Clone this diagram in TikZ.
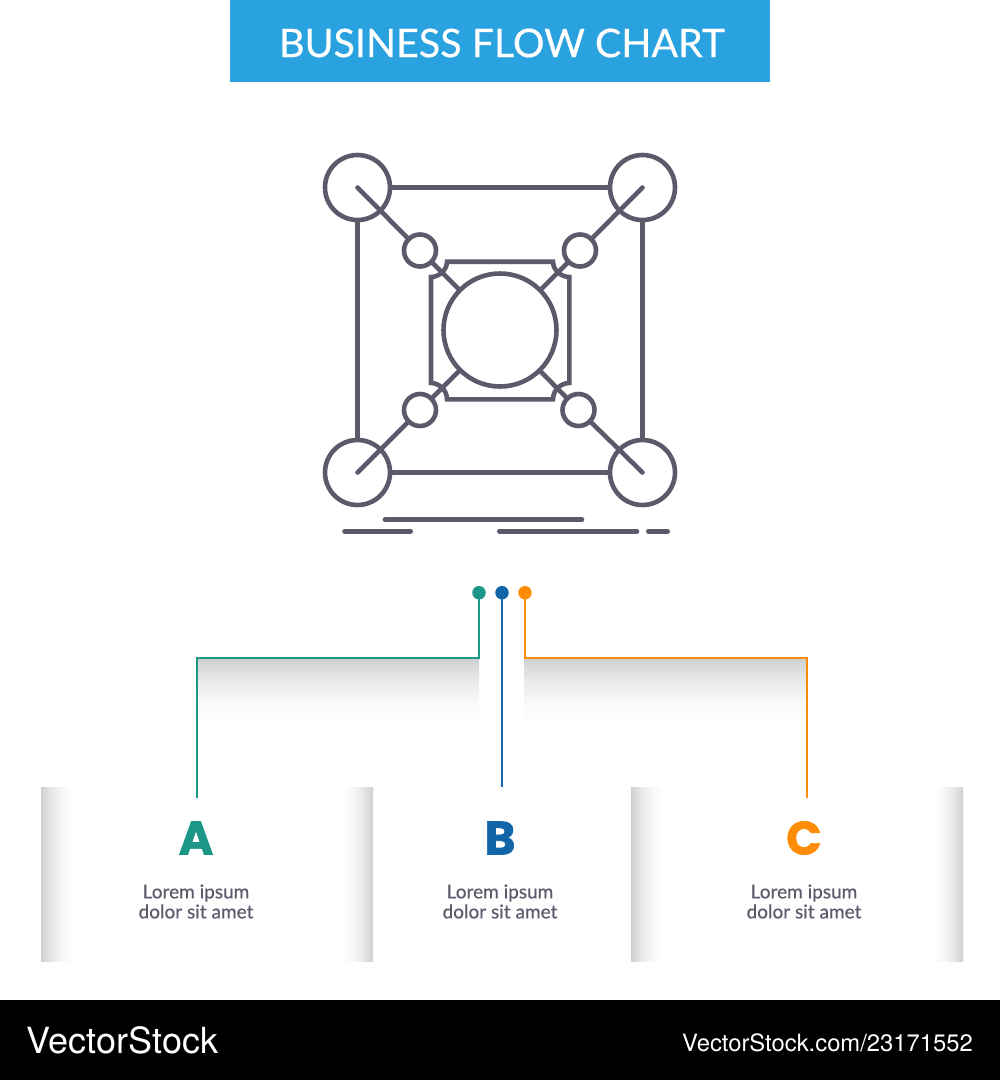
\documentclass[tikz,border=0pt]{standalone}
\usepackage{fontspec}
\setmainfont{Lato}
\newfontfamily\mediumfont[FakeBold=0.4]{Lato}
\newfontfamily\capsfont[BoldFeatures={FakeBold=1.2}]{Poppins}
\newfontfamily\brandfont{TeX Gyre Heros}
\definecolor{headblue}{HTML}{2BA2E0}
\definecolor{iconink}{HTML}{5A5A6A}
\definecolor{teal}{HTML}{1C9787}
\definecolor{deepblue}{HTML}{1265A8}
\definecolor{amber}{HTML}{FF8C06}
\definecolor{shadegrey}{HTML}{CFD0D2}
\definecolor{shademid}{HTML}{E6E7E7}
\definecolor{shadelow}{HTML}{F8F8F8}
\pgfdeclareverticalshading{fadedown}{100bp}{color(0bp)=(white); color(25bp)=(white); color(42bp)=(shadelow); color(60bp)=(shademid); color(75bp)=(shadegrey); color(100bp)=(shadegrey)}
\pgfdeclarehorizontalshading{fadeleft}{100bp}{color(0bp)=(shadegrey); color(25bp)=(shadegrey); color(40bp)=(shademid); color(58bp)=(shadelow); color(75bp)=(white); color(100bp)=(white)}
\pgfdeclarehorizontalshading{faderight}{100bp}{color(0bp)=(white); color(25bp)=(white); color(42bp)=(shadelow); color(60bp)=(shademid); color(75bp)=(shadegrey); color(100bp)=(shadegrey)}
\begin{document}
\begin{tikzpicture}[x=1pt,y=-1pt,
    ring/.style={circle,draw=iconink,line width=4.6pt,inner sep=0pt,outer sep=0pt},
    bigring/.style={ring,minimum size=65pt},
    smallring/.style={ring,minimum size=32pt},
    hubring/.style={ring,minimum size=113pt},
    wire/.style={draw=iconink,line width=4.6pt},
    spoke/.style={wire,line cap=round},
    pin/.style={circle,inner sep=0pt,outer sep=0pt,minimum size=13.5pt},
    letter/.style={font=\capsfont\bfseries\fontsize{47}{47}\selectfont},
    caption/.style={align=center,text=iconink,font=\mediumfont\fontsize{19}{20}\selectfont}]
    \useasboundingbox (0,0) rectangle (1000,1080);
    \fill[headblue] (230,0) rectangle (770,82);
    \fill[black] (0,1000) rectangle (1000,1080);
    \node[text=white,font=\mediumfont\fontsize{39.4}{39}\selectfont] (title) at (502,43) {BUSINESS FLOW CHART};
    \node[text=white,font=\brandfont\fontsize{36}{35}\selectfont] (brand) at (122.5,1040) {VectorStock};
    \node[text=white,font=\brandfont\fontsize{23.8}{24}\selectfont] (ref) at (827.5,1043) {VectorStock.com/23171552};
    \path[shading=fadedown] (197,659) rectangle (479,722);
    \path[shading=fadedown] (524,659) rectangle (807,722);
    \path[shading=fadeleft] (41,787) rectangle (75,961);
    \path[shading=faderight] (340,787) rectangle (373,961);
    \path[shading=fadeleft] (631,787) rectangle (663,961);
    \path[shading=faderight] (932,787) rectangle (963,961);
    \node[bigring] (c1) at (357.5,187.5) {};
    \node[bigring] (c2) at (642.5,187.5) {};
    \node[bigring] (c3) at (357.5,472.5) {};
    \node[bigring] (c4) at (642.5,472.5) {};
    \node[smallring] (s1) at (420,250.5) {};
    \node[smallring] (s2) at (580,250.5) {};
    \node[smallring] (s3) at (420,410) {};
    \node[smallring] (s4) at (578.5,410) {};
    \node[hubring] (hub) at (500,330) {};
    \path[wire] (c1) -- (c2);
    \path[wire] (c2) -- (c4);
    \path[wire] (c4) -- (c3);
    \path[wire] (c3) -- (c1);
    \path[spoke] (c1.center) -- (s1);
    \path[spoke] (c2.center) -- (s2);
    \path[spoke] (c3.center) -- (s3);
    \path[spoke] (c4.center) -- (s4);
    \path[spoke] (s1) -- (hub);
    \path[spoke] (s2) -- (hub);
    \path[spoke] (s3) -- (hub);
    \path[spoke] (s4) -- (hub);
    \path[wire,line join=miter] (447,261.7) -- (553,261.7) .. controls (553,270) and (561,277) .. (569.3,277)
        -- (569.3,383) .. controls (561,383) and (553,390) .. (553,399.3)
        -- (447,399.3) .. controls (447,390) and (439,383) .. (431,383)
        -- (431,277) .. controls (439,277) and (447,270) .. cycle;
    \path[spoke] (385,519.7) -- (582,519.7);
    \path[spoke] (344.5,531.3) -- (410.7,531.3);
    \path[spoke] (499.3,531.3) -- (637,531.3);
    \path[spoke] (648.3,531.3) -- (667.7,531.3);
    \node[pin,fill=teal] (d1) at (479,592.7) {};
    \node[pin,fill=deepblue] (d2) at (502,592.7) {};
    \node[pin,fill=amber] (d3) at (525,592.7) {};
    \coordinate (a1) at (196.7,658);
    \coordinate (a2) at (196.7,797.7);
    \coordinate (b2) at (502,786.7);
    \coordinate (e1) at (807.3,658);
    \coordinate (e2) at (807.3,797.7);
    \path[draw=teal,line width=1.8pt] (d1) |- (a1) -- (a2);
    \path[draw=deepblue,line width=1.8pt] (d2) -- (b2);
    \path[draw=amber,line width=1.8pt] (d3) |- (e1) -- (e2);
    \node[letter,text=teal] (la) at (196,838) {A};
    \node[letter,text=deepblue] (lb) at (500,838) {B};
    \node[letter,text=amber] (lc) at (804,838) {C};
    \node[caption] (ta) at (196,901.5) {Lorem ipsum\\dolor sit amet};
    \node[caption] (tb) at (500,901.5) {Lorem ipsum\\dolor sit amet};
    \node[caption] (tc) at (804,901.5) {Lorem ipsum\\dolor sit amet};
\end{tikzpicture}
\end{document}
